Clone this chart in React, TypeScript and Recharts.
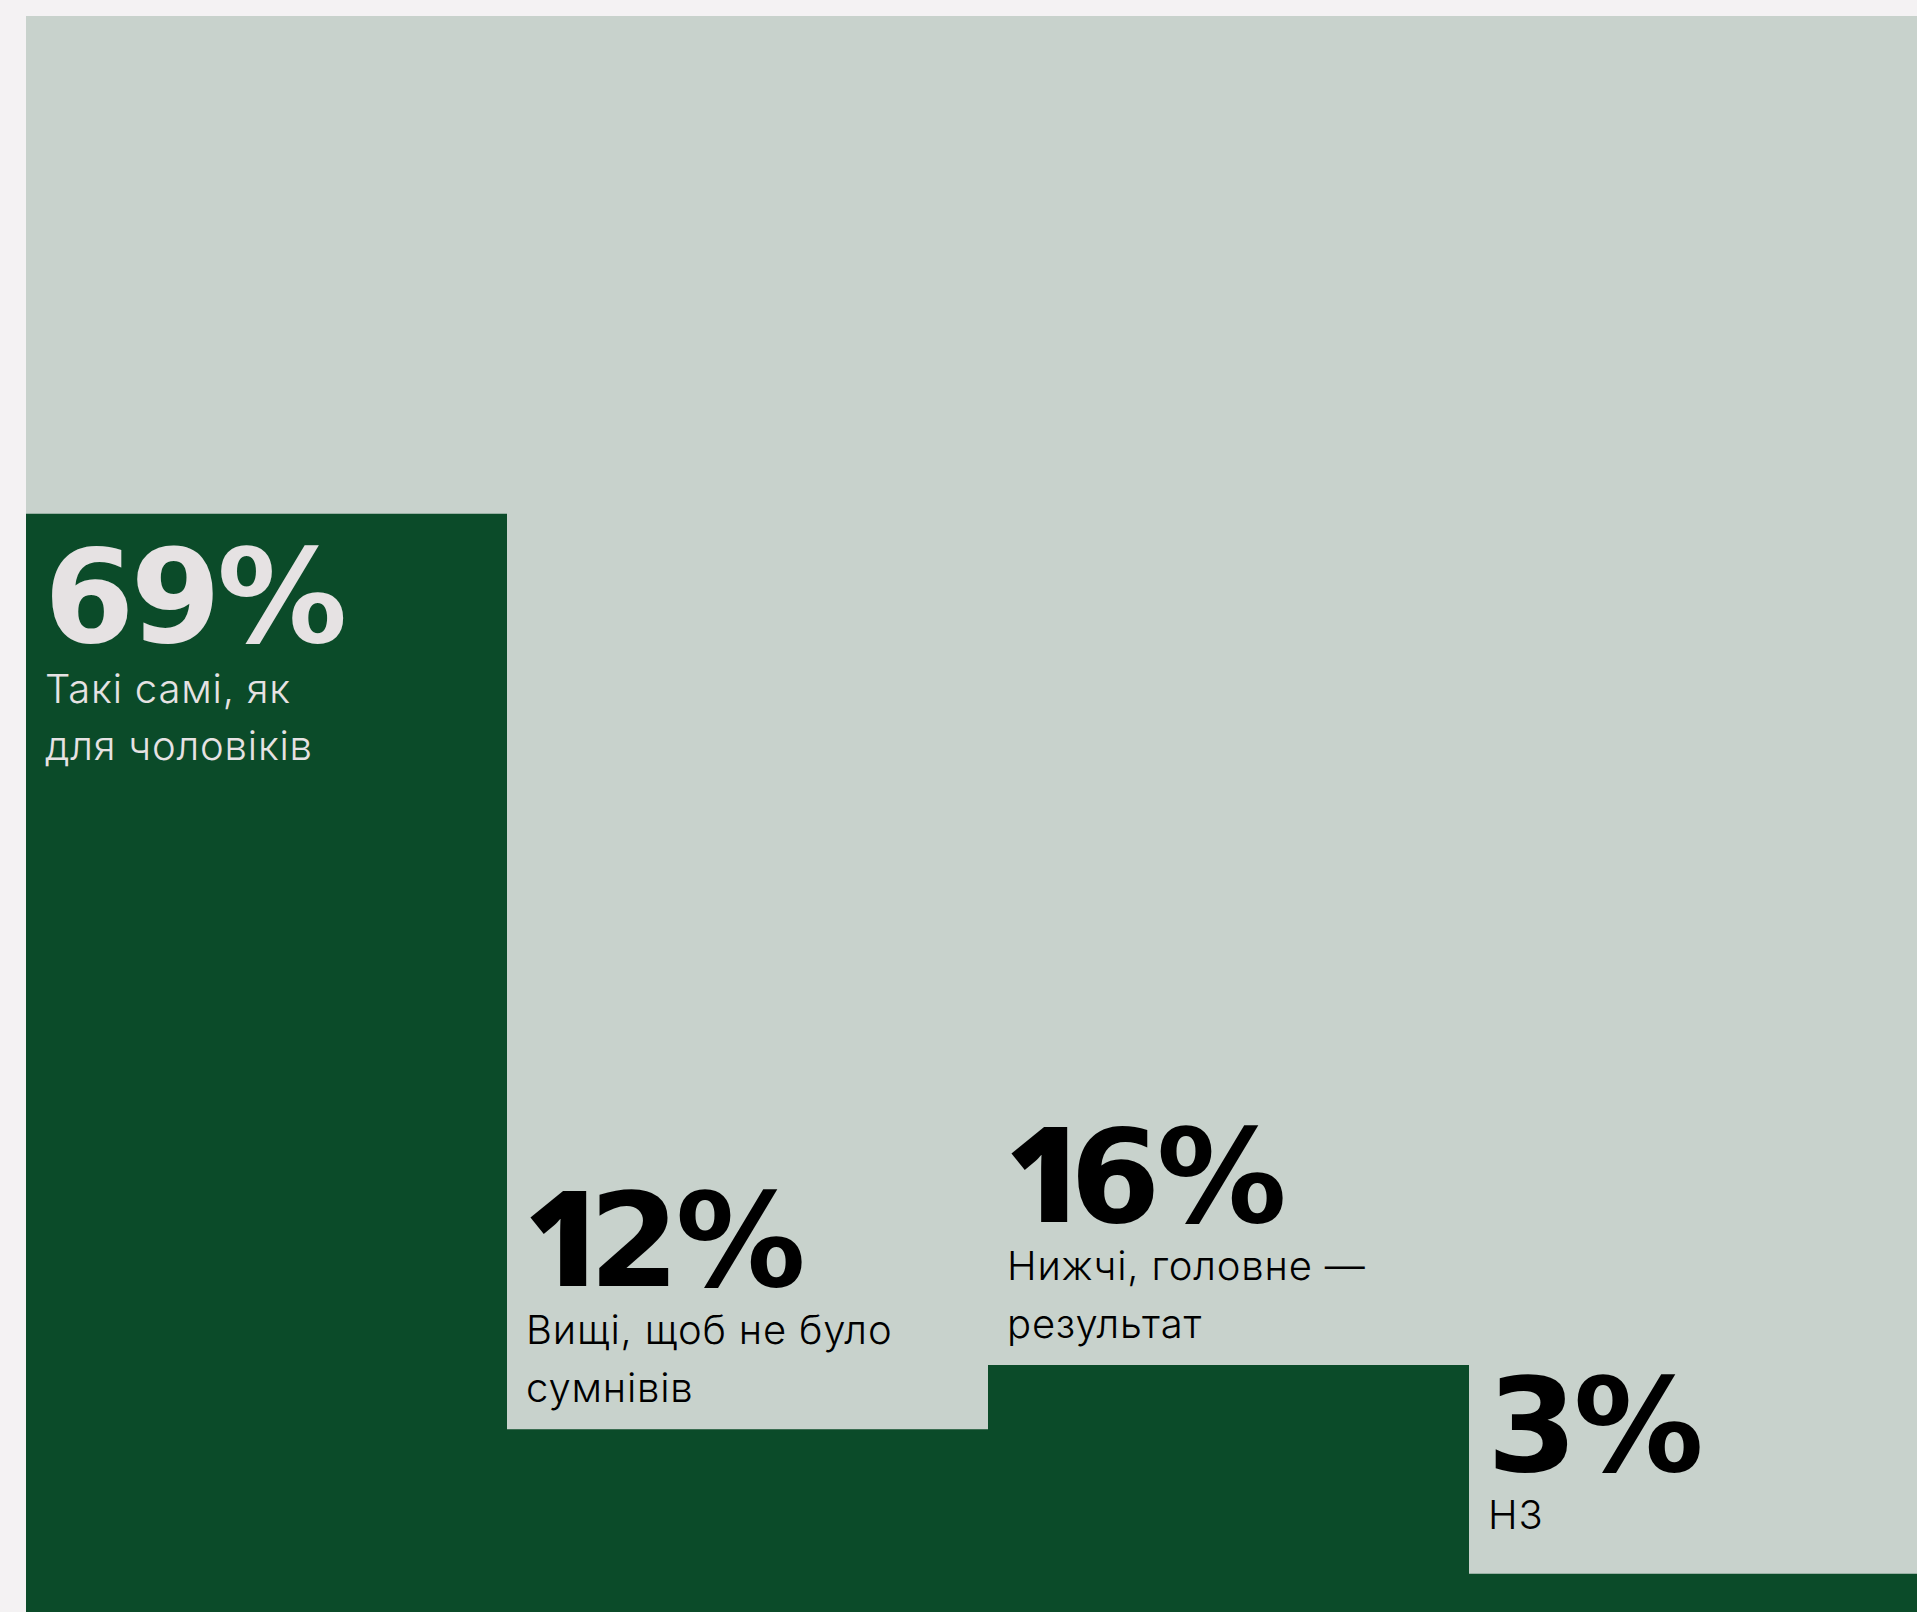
import React from 'react';
import { BarChart, Bar, XAxis, YAxis, LabelList } from 'recharts';

const categories = ['same', 'higher', 'lower', 'na'];
const values = [69, 12, 16, 3];
const bigLabels = ['69%', '12%', '16%', '3%'];
const captions: string[][] = [
  ['Такі самі, як', 'для чоловіків'],
  ['Вищі, щоб не було', 'сумнівів'],
  ['Нижчі, головне —', 'результат'],
  ['НЗ'],
];

const data = categories.map((c, i) => ({ key: c, value: values[i] }));

const DARK = '#0b4b29';
const LIGHT_BG = '#c8d2cc';
const PAGE_BG = '#f4f2f3';
const LIGHT_TEXT = '#e6e2e3';
const BIG_FONT = '"DejaVu Sans", sans-serif';
const ONE_FONT = '"Open Sans", Roboto, sans-serif';
const SMALL_FONT = 'Inter, "Noto Sans", sans-serif';

const renderBig = (s: string) =>
  s.split('').map((ch, k) =>
    ch === '1' ? (
      <tspan key={k} fontFamily={ONE_FONT} fontWeight={800} fontSize={133}>
        {ch}
      </tspan>
    ) : (
      <tspan key={k} dx={k > 0 && s[k - 1] === '1' ? -10 : 0}>
        {ch}
      </tspan>
    )
  );

const renderLabel = (props: any) => {
  const { x, y, height, value } = props;
  const i = categories.indexOf(value);
  if (i < 0) return null;
  const lines = captions[i];
  const inside = values[i] >= 50;
  const lineGap = 58;
  let bigY: number;
  let lineYs: number[];
  let color: string;
  if (inside) {
    color = LIGHT_TEXT;
    bigY = y + 128;
    lineYs = lines.map((_, k) => bigY + 61 + k * 57);
  } else {
    color = '#000';
    const anchor = Math.min(y, y + height - 66);
    const lastBase = anchor - 27;
    lineYs = lines.map((_, k) => lastBase - (lines.length - 1 - k) * lineGap);
    bigY = lineYs[0] - lineGap;
  }
  return (
    <g>
      <text
        x={x + 18}
        y={bigY}
        fill={color}
        fontFamily={BIG_FONT}
        fontWeight={700}
        fontSize={130}
        letterSpacing={-4}
      >
        {renderBig(bigLabels[i])}
      </text>
      {lines.map((t, k) => (
        <text
          key={k}
          x={x + 19}
          y={lineYs[k]}
          fill={color}
          fontFamily={SMALL_FONT}
          fontWeight={300}
          fontSize={40}
          letterSpacing={0.8}
        >
          {t}
        </text>
      ))}
    </g>
  );
};

export default function App() {
  return (
    <div
      style={{
        position: 'fixed',
        left: 0,
        top: 0,
        width: 1917,
        height: 1612,
        overflow: 'hidden',
        background: PAGE_BG,
      }}
    >
      <div style={{ position: 'absolute', left: 26, top: 16 }}>
        <BarChart
          width={1924}
          height={1606}
          data={data}
          margin={{ top: 0, right: 0, bottom: 0, left: 0 }}
          barCategoryGap={0}
          barGap={0}
        >
          <XAxis dataKey="key" hide />
          <YAxis hide domain={[0, 100]} />
          <Bar
            dataKey="value"
            fill={DARK}
            background={{ fill: LIGHT_BG }}
            isAnimationActive={false}
          >
            <LabelList dataKey="key" content={renderLabel} />
          </Bar>
        </BarChart>
      </div>
    </div>
  );
}
